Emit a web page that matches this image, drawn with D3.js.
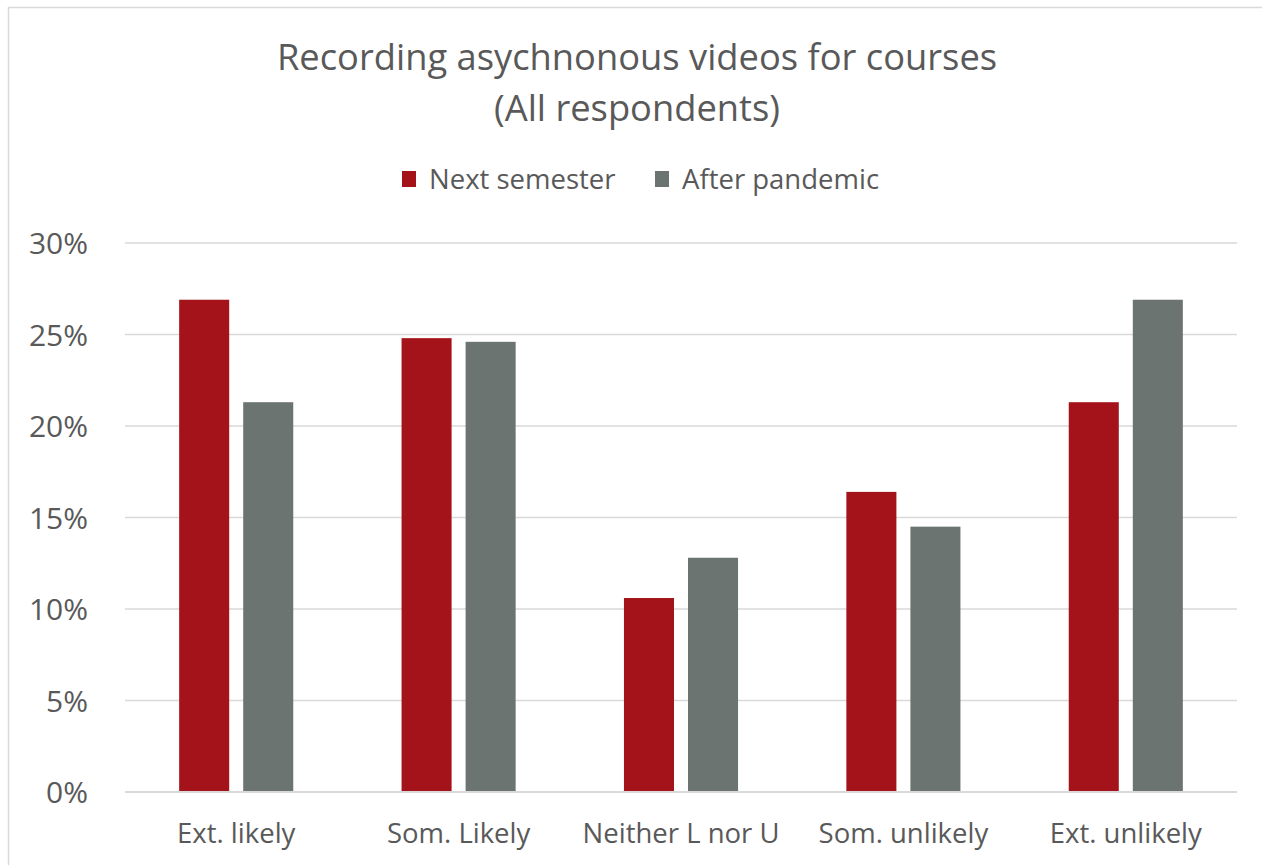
<!DOCTYPE html>
<html><head><meta charset="utf-8">
<script src="https://cdn.jsdelivr.net/npm/d3@7"></script>
<style>body{margin:0;background:#fff;} svg{display:block;}</style>
</head><body>
<svg id="chart" width="1262" height="865"></svg>
<script>
const categories = ["Ext. likely", "Som. Likely", "Neither L nor U", "Som. unlikely", "Ext. unlikely"];
const seriesNames = ["Next semester", "After pandemic"];
const nextSemester = [26.9, 24.8, 10.6, 16.4, 21.3];
const afterPandemic = [21.3, 24.6, 12.8, 14.5, 26.9];
const yTicks = [0, 5, 10, 15, 20, 25, 30];
const colors = ["#A31319", "#6C7471"];
const titleLines = ["Recording asychnonous videos for courses", "(All respondents)"];

const values = [nextSemester, afterPandemic];
const svg = d3.select("#chart");
const font = "'Open Sans', sans-serif";
const textColor = "#595959";

// outer frame
svg.append("rect").attr("x", 8.5).attr("y", 7.5).attr("width", 1262).attr("height", 900)
  .attr("fill", "#fff").attr("stroke", "#d9d9d9").attr("stroke-width", 1.5);

const pLeft = 125, pRight = 1237, pTop = 243, pBottom = 792;
const x = d3.scaleBand().domain(categories).range([pLeft, pRight]).paddingInner(0.487).paddingOuter(0.2435);
const xs = d3.scaleBand().domain(seriesNames).range([0, x.bandwidth()]).paddingInner(0.21875);
const y = d3.scaleLinear().domain([0, 30]).range([pBottom, pTop]);

// gridlines
svg.append("g").selectAll("line").data(yTicks.filter(d => d > 0)).join("line")
  .attr("x1", pLeft).attr("x2", pRight).attr("y1", d => y(d)).attr("y2", d => y(d))
  .attr("stroke", "#d9d9d9").attr("stroke-width", 1.5);

// y axis labels
const yAxis = d3.axisLeft(y).tickValues(yTicks).tickFormat(d => d + "%").tickSize(0).tickPadding(0);
const yg = svg.append("g").attr("transform", `translate(88,0)`).call(yAxis);
yg.select(".domain").remove();
yg.selectAll("text").attr("font-family", font).attr("font-size", 30).attr("fill", textColor).attr("dy", "0.35em");

// bars
const groups = svg.append("g").selectAll("g").data(categories).join("g")
  .attr("transform", d => `translate(${x(d)},0)`);
groups.selectAll("rect").data((c, i) => seriesNames.map((s, j) => ({s, v: values[j][i], j}))).join("rect")
  .attr("x", d => xs(d.s)).attr("width", xs.bandwidth())
  .attr("y", d => y(d.v)).attr("height", d => y(0) - y(d.v))
  .attr("fill", d => colors[d.j]);

// baseline
svg.append("line").attr("x1", pLeft).attr("x2", pRight).attr("y1", y(0)).attr("y2", y(0))
  .attr("stroke", "#d9d9d9").attr("stroke-width", 2);

// x axis labels
const xAxis = d3.axisBottom(x).tickSize(0).tickPadding(0);
const xg = svg.append("g").attr("transform", `translate(0,${pBottom + 41})`).call(xAxis);
xg.select(".domain").remove();
xg.selectAll("text").attr("font-family", font).attr("font-size", 27.5).attr("fill", textColor).attr("dy", "0.35em");

// title
svg.append("g").selectAll("text").data(titleLines).join("text")
  .attr("x", 637).attr("y", (d, i) => 57 + i * 51).attr("dy", "0.35em")
  .attr("text-anchor", "middle").attr("font-family", font).attr("font-size", 36.3)
  .attr("fill", textColor).text(d => d);

// legend
const legendItems = [{name: seriesNames[0], x: 402}, {name: seriesNames[1], x: 655}];
const lg = svg.append("g").selectAll("g").data(legendItems).join("g")
  .attr("transform", d => `translate(${d.x},179)`);
lg.append("rect").attr("x", 0).attr("y", -8).attr("width", 14).attr("height", 16)
  .attr("fill", (d, i) => colors[i]);
lg.append("text").attr("x", 27).attr("dy", "0.35em").attr("font-family", font).attr("font-size", 27.5)
  .attr("fill", textColor).text(d => d.name);
</script>
</body></html>
